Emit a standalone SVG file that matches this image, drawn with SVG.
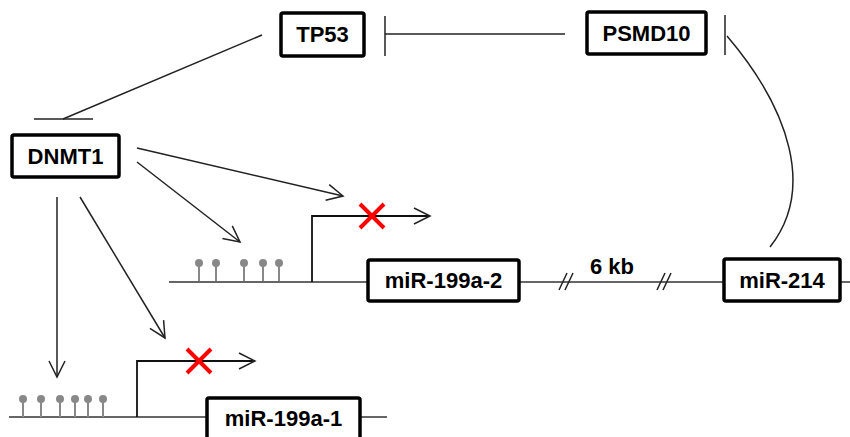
<svg xmlns="http://www.w3.org/2000/svg" width="850" height="437" viewBox="0 0 850 437">
<style>
.box{fill:#fff;stroke:#000;stroke-width:3.5}
.lbl{font-family:"Liberation Sans",Arial,sans-serif;font-weight:bold;font-size:22px;fill:#000;text-anchor:middle}
.ln{fill:none;stroke:#222;stroke-width:1.5}
.gene{fill:none;stroke:#333;stroke-width:1.5}
.lol{stroke:#888;stroke-width:2;fill:none}
.x{stroke:#f00;stroke-width:4;stroke-linecap:butt}
</style>
<defs>
<marker id="arr" viewBox="0 0 20 20" refX="18" refY="10" markerWidth="20" markerHeight="20" markerUnits="userSpaceOnUse" orient="auto">
<path d="M2,2 L18,10 L2,18" fill="none" stroke="#222" stroke-width="1.5"/>
</marker>
<g id="lolli"><line class="lol" x1="0" y1="0" x2="0" y2="18"/><circle cx="0" cy="0" r="4" fill="#888"/></g>
</defs>
<rect width="850" height="437" fill="#fff"/>
<g id="connectors">
<line class="ln" x1="262" y1="35" x2="63" y2="119"/>
<line class="ln" x1="34" y1="119" x2="93" y2="119"/>
<line class="ln" x1="385" y1="34" x2="565" y2="34"/>
<line class="ln" x1="385" y1="16" x2="385" y2="56"/>
<line class="ln" x1="725" y1="15" x2="725" y2="55"/>
<path class="ln" d="M727,36 C790,110 815,190 770,247" stroke-width="2"/>
<line class="ln" x1="137" y1="148" x2="343" y2="196" marker-end="url(#arr)"/>
<line class="ln" x1="137" y1="162" x2="240" y2="242" marker-end="url(#arr)"/>
<line class="ln" x1="57" y1="197" x2="57" y2="377" marker-end="url(#arr)"/>
<line class="ln" x1="80" y1="197" x2="165" y2="338" marker-end="url(#arr)"/>
</g>
<g id="gene-upper">
<line class="gene" x1="169" y1="282" x2="850" y2="282"/>
<line x1="559" y1="290" x2="567" y2="273" stroke="#222" stroke-width="1.5"/>
<line x1="565" y1="290" x2="573" y2="273" stroke="#222" stroke-width="1.5"/>
<line x1="657" y1="290" x2="665" y2="273" stroke="#222" stroke-width="1.5"/>
<line x1="663" y1="290" x2="671" y2="273" stroke="#222" stroke-width="1.5"/>
<text class="lbl" x="612" y="274" font-size="21">6 kb</text>
<use href="#lolli" x="199" y="263"/>
<use href="#lolli" x="216" y="263"/>
<use href="#lolli" x="244" y="263"/>
<use href="#lolli" x="263" y="263"/>
<use href="#lolli" x="279" y="263"/>
<path d="M312,282 V216 H430" fill="none" stroke="#111" stroke-width="1.8" marker-end="url(#arr)"/>
<path class="x" d="M360,204 L384,228 M384,204 L360,228"/>
</g>
<g id="gene-lower">
<line class="gene" x1="9" y1="417" x2="387" y2="417"/>
<use href="#lolli" x="23" y="399"/>
<use href="#lolli" x="41" y="399"/>
<use href="#lolli" x="60" y="399"/>
<use href="#lolli" x="75" y="399"/>
<use href="#lolli" x="88" y="399"/>
<use href="#lolli" x="103" y="399"/>
<path d="M137,417 V361 H255" fill="none" stroke="#111" stroke-width="1.8" marker-end="url(#arr)"/>
<path class="x" d="M187,349 L211,373 M211,349 L187,373"/>
</g>
<g id="TP53"><rect class="box" x="281" y="13" width="83" height="43" rx="2"/><text class="lbl" x="322.5" y="42">TP53</text></g>
<g id="PSMD10"><rect class="box" x="587" y="12" width="119" height="42" rx="2"/><text class="lbl" x="646.5" y="41">PSMD10</text></g>
<g id="DNMT1"><rect class="box" x="12" y="135" width="107" height="42" rx="2"/><text class="lbl" x="65.5" y="164">DNMT1</text></g>
<g id="miR-199a-2"><rect class="box" x="368" y="260" width="151" height="41" rx="2"/><text class="lbl" x="443.5" y="288">miR-199a-2</text></g>
<g id="miR-214"><rect class="box" x="724" y="259" width="116" height="42" rx="2"/><text class="lbl" x="782" y="288">miR-214</text></g>
<g id="miR-199a-1"><rect class="box" x="207" y="398" width="153" height="45" rx="2"/><text class="lbl" x="283.5" y="426">miR-199a-1</text></g>
</svg>
